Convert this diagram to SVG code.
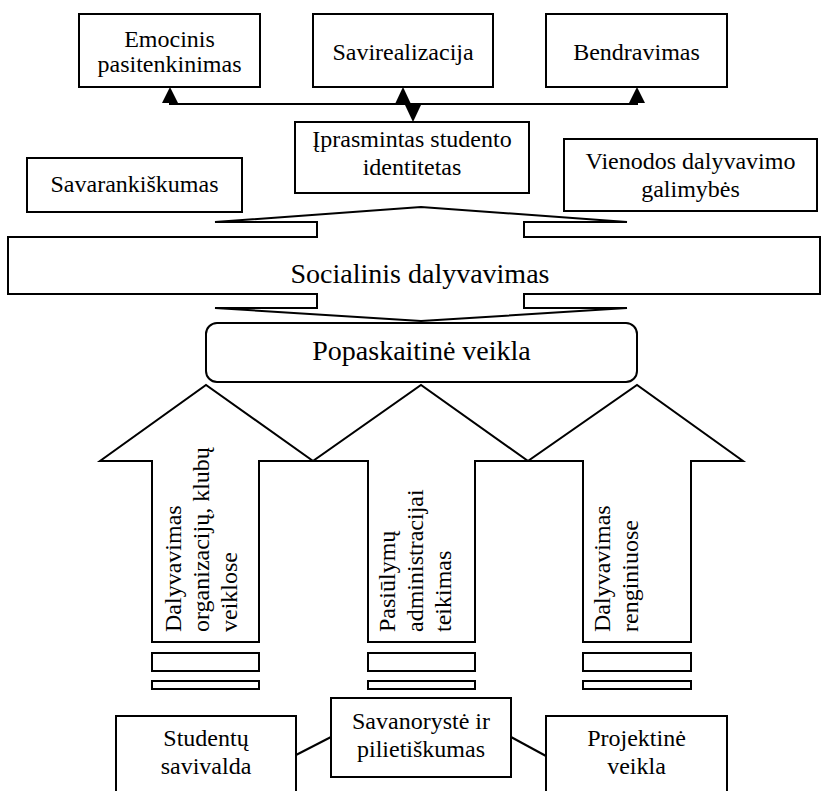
<svg xmlns="http://www.w3.org/2000/svg" width="827" height="791" viewBox="0 0 827 791" font-family="'Liberation Serif', Tinos, 'Times New Roman', 'DejaVu Serif', serif">
  <style>
    .box { fill: #fff; stroke: #000; stroke-width: 2; }
    .shape { fill: #fff; stroke: #000; stroke-width: 2; stroke-linejoin: miter; }
    .line { fill: none; stroke: #000; stroke-width: 2; }
    .head { fill: #000; stroke: none; }
    text { font-family: 'Liberation Serif', Tinos, 'Times New Roman', 'DejaVu Serif', serif; font-size: 24px; fill: #000; text-anchor: middle; }
    .big { font-size: 28px; }
    .vert { text-anchor: start; }
  </style>
  <rect width="827" height="791" fill="#fff"/>

  <!-- connectors -->
  <g id="connectors">
    <polyline class="line" points="170,100 170,104 637,104 637,100"/>
    <polygon class="head" points="170,87 162,103 178,103"/>
    <polygon class="head" points="637,87 629,103 645,103"/>
    <line class="line" x1="404" y1="95" x2="412" y2="113"/>
    <polygon class="head" points="403,87 395,104 411,104"/>
    <polygon class="head" points="413,122 405,105 421,105"/>
    <line class="line" x1="296" y1="755" x2="331" y2="737"/>
    <line class="line" x1="511" y1="737" x2="546" y2="756"/>
  </g>

  <!-- top row -->
  <g id="emocinis">
    <rect class="box" x="79" y="14" width="181" height="73"/>
    <text x="169.5" y="47">Emocinis</text>
    <text x="169.5" y="72">pasitenkinimas</text>
  </g>
  <g id="saviraiska">
    <rect class="box" x="313" y="14" width="180" height="73"/>
    <text x="403" y="60">Savirealizacija</text>
  </g>
  <g id="bendravimas">
    <rect class="box" x="546" y="14" width="181" height="73"/>
    <text x="636.5" y="60">Bendravimas</text>
  </g>

  <!-- second row -->
  <g id="identitetas">
    <rect class="box" x="295" y="122" width="234" height="71"/>
    <text x="412" y="147">Įprasmintas studento</text>
    <text x="412" y="175">identitetas</text>
  </g>
  <g id="savarankiskumas">
    <rect class="box" x="27" y="158" width="215" height="54"/>
    <text x="134.5" y="192">Savarankiškumas</text>
  </g>
  <g id="galimybes">
    <rect class="box" x="564" y="139" width="253" height="72"/>
    <text x="690.5" y="169">Vienodos dalyvavimo</text>
    <text x="690.5" y="197">galimybės</text>
  </g>

  <!-- social participation band with callout notches -->
  <g id="socialinis">
    <path class="shape" d="M8,237 H317 V222 H215 L421,207 L627,222 H524 V237 H820 V294 H524 V308 H627 L421,321 L215,308 H317 V294 H8 Z"/>
    <text class="big" x="420" y="283">Socialinis dalyvavimas</text>
  </g>

  <g id="popaskaitine">
    <rect class="box" x="206" y="323" width="431" height="59" rx="11" ry="11"/>
    <text class="big" x="421.5" y="360">Popaskaitinė veikla</text>
  </g>

  <!-- upward block arrows -->
  <g id="rodykle-1">
    <polygon class="shape" points="152,642 152,461 100,461 206,385 313,461 259,461 259,642"/>
    <text class="vert" transform="rotate(-90 181 632)" x="181" y="632">Dalyvavimas</text>
    <text class="vert" transform="rotate(-90 209 632)" x="209" y="632">organizacijų, klubų</text>
    <text class="vert" transform="rotate(-90 237 632)" x="237" y="632">veiklose</text>
    <rect class="box" x="152" y="653" width="107" height="18"/>
    <rect class="box" x="152" y="681" width="107" height="8"/>
  </g>
  <g id="rodykle-2">
    <polygon class="shape" points="368,642 368,461 313,461 421,385 528,461 475,461 475,642"/>
    <text class="vert" transform="rotate(-90 395 632)" x="395" y="632">Pasiūlymų</text>
    <text class="vert" transform="rotate(-90 423 632)" x="423" y="632">administracijai</text>
    <text class="vert" transform="rotate(-90 451 632)" x="451" y="632">teikimas</text>
    <rect class="box" x="368" y="653" width="107" height="18"/>
    <rect class="box" x="368" y="681" width="107" height="8"/>
  </g>
  <g id="rodykle-3">
    <polygon class="shape" points="583,642 583,461 528,461 637,385 743,461 691,461 691,642"/>
    <text class="vert" transform="rotate(-90 610 632)" x="610" y="632">Dalyvavimas</text>
    <text class="vert" transform="rotate(-90 638 632)" x="638" y="632">renginiuose</text>
    <rect class="box" x="583" y="653" width="108" height="18"/>
    <rect class="box" x="583" y="681" width="108" height="8"/>
  </g>

  <!-- bottom row -->
  <g id="savivalda">
    <rect class="box" x="116" y="716" width="180" height="90"/>
    <text x="206" y="746">Studentų</text>
    <text x="206" y="774">savivalda</text>
  </g>
  <g id="savanoryste">
    <rect class="box" x="331" y="698" width="180" height="79"/>
    <text x="421" y="729">Savanorystė ir</text>
    <text x="421" y="757">pilietiškumas</text>
  </g>
  <g id="projektine">
    <rect class="box" x="546" y="716" width="181" height="90"/>
    <text x="636.5" y="746">Projektinė</text>
    <text x="636.5" y="774">veikla</text>
  </g>
</svg>
